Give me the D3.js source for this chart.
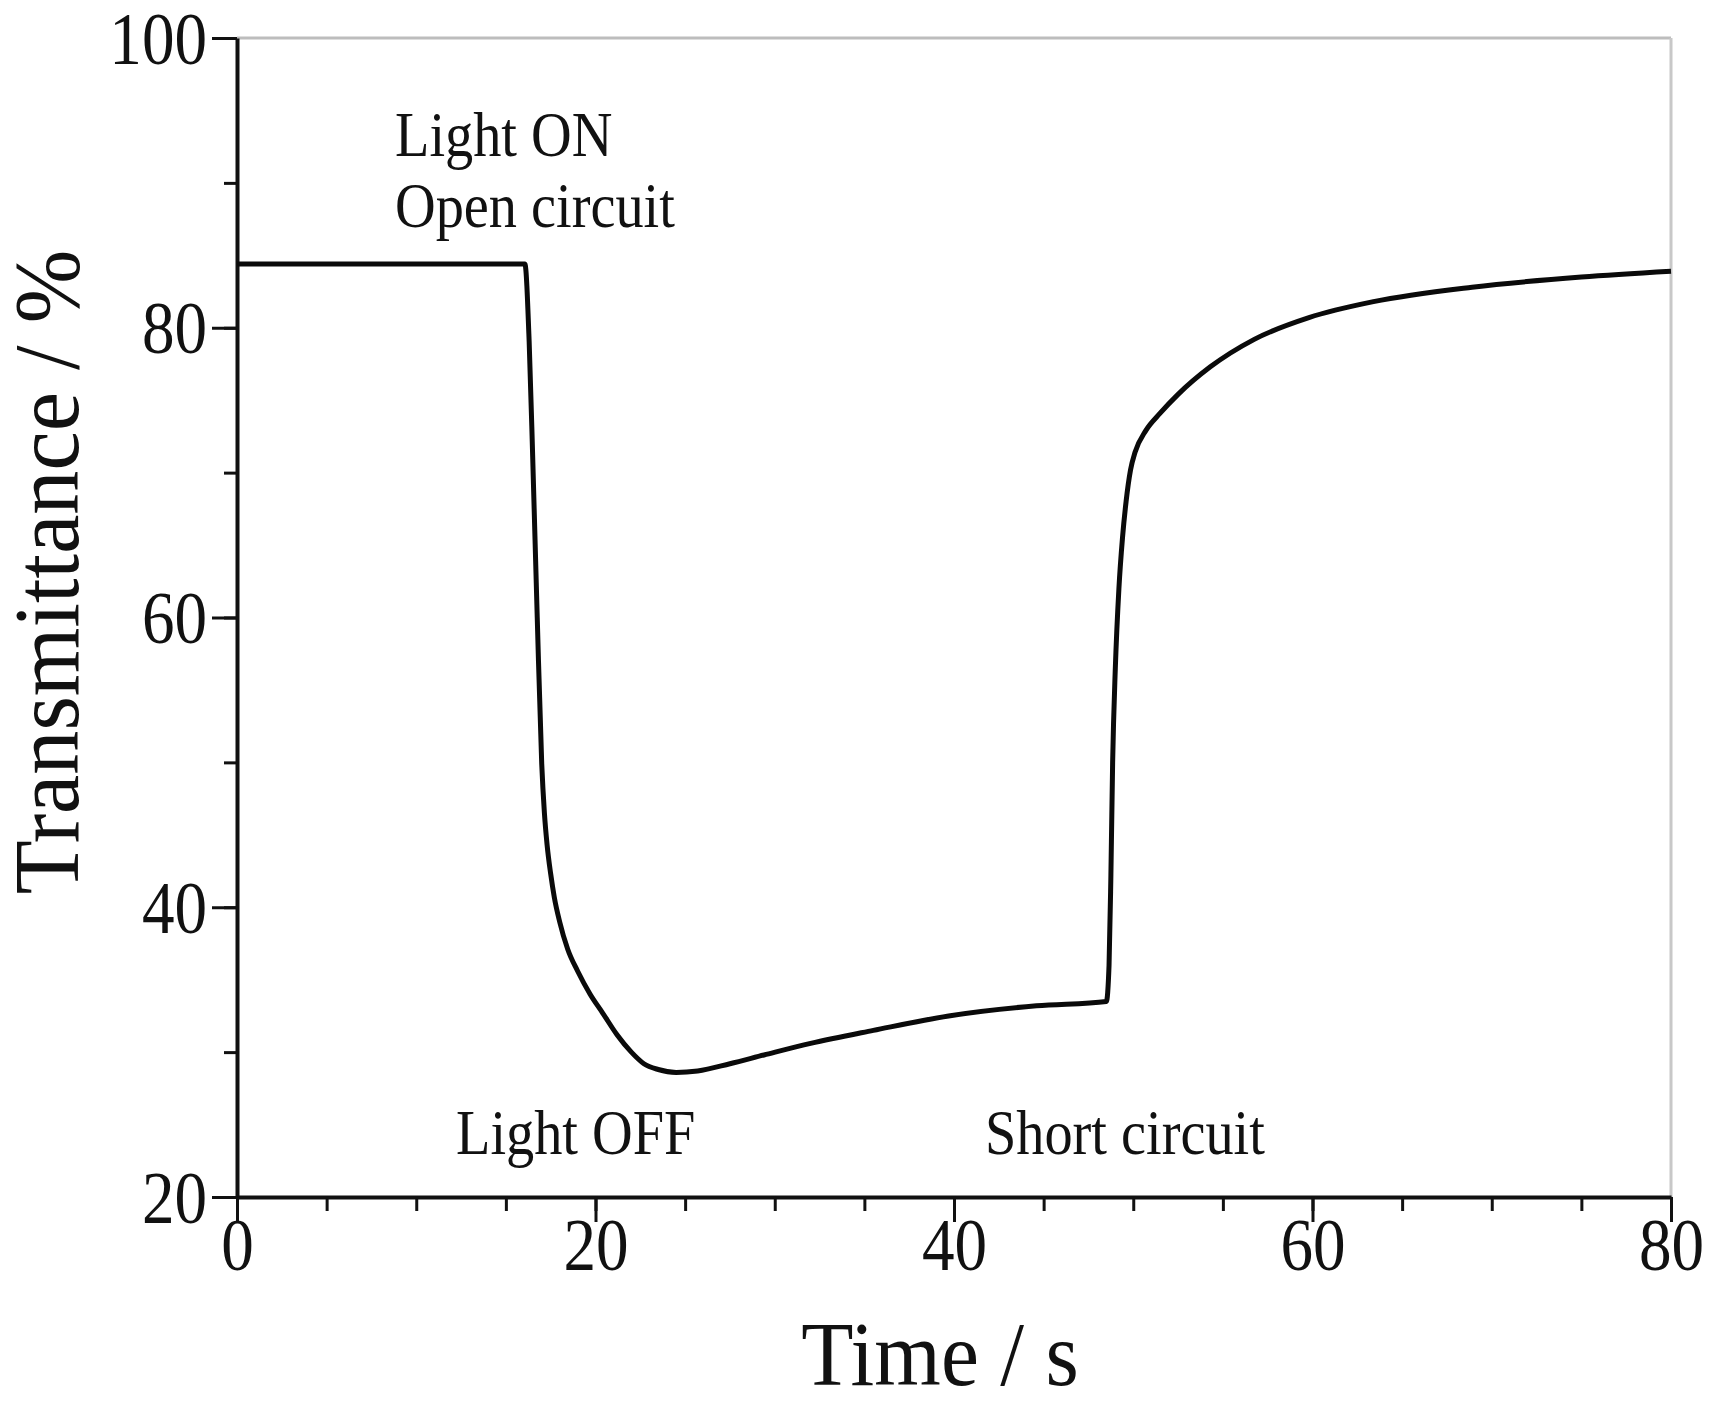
<!DOCTYPE html>
<html>
<head>
<meta charset="utf-8">
<script src="https://cdnjs.cloudflare.com/ajax/libs/d3/7.8.5/d3.min.js"></script>
<style>
  body { margin: 0; background: #fff; }
  svg { display: block; }
  text { font-family: "Liberation Serif", "Times New Roman", serif; fill: #111; }
</style>
</head>
<body>
<svg id="chart" width="1710" height="1404"></svg>
<script>
// time (s) and transmittance (%)
var timeS = [0, 16.06, 16.3, 16.5, 16.75, 17.0, 17.15, 17.3, 17.5, 17.7, 18.0, 18.45, 19.0, 19.7, 20.4, 21.2, 22.0, 22.7, 23.5, 24.5, 25.7, 27.5, 29.4, 32.0, 35.5, 39.7, 44.6, 48.5,
             48.65, 48.75, 48.85, 49.0, 49.2, 49.4, 49.6, 49.85, 50.1, 50.7, 51.5, 52.5, 54.3, 56.75, 59.8, 63.4, 68.9, 75.0, 80.0];
var transmittance = [84.4, 84.4, 79.0, 70.9, 60.0, 49.9, 46.5, 44.3, 42.3, 40.7, 39.0, 37.1, 35.6, 34.0, 32.7, 31.2, 30.0, 29.2, 28.8, 28.6, 28.7, 29.2, 29.8, 30.6, 31.5, 32.5, 33.2, 33.5,
                     36.0, 42.0, 50.0, 56.5, 62.0, 65.5, 68.0, 70.2, 71.4, 72.9, 74.1, 75.4, 77.3, 79.2, 80.7, 81.8, 82.8, 83.5, 83.9];

var xTicks = [0, 20, 40, 60, 80];
var yTicks = [20, 40, 60, 80, 100];

var annotations = [
    { text: "Light ON", x: 395, y: 156 },
    { text: "Open circuit", x: 395, y: 227 },
    { text: "Light OFF", x: 456, y: 1154 },
    { text: "Short circuit", x: 985, y: 1154 }
];

var margin = { top: 38, right: 39, bottom: 207, left: 237 };
var W = 1710, H = 1404;
var iw = W - margin.left - margin.right;
var ih = H - margin.top - margin.bottom;
var squeeze = 0.88;   // the original text is a bit narrow

var svg = d3.select("#chart");
var g = svg.append("g").attr("transform", "translate(" + margin.left + "," + margin.top + ")");

var x = d3.scaleLinear().domain([0, 80]).range([0, iw]);
var y = d3.scaleLinear().domain([20, 100]).range([ih, 0]);

// frame: top and right in grey
g.append("line").attr("x1", 0).attr("x2", iw).attr("y1", 0).attr("y2", 0)
    .attr("stroke", "#bdbdbd").attr("stroke-width", 3);
g.append("line").attr("x1", iw).attr("x2", iw).attr("y1", 0).attr("y2", ih)
    .attr("stroke", "#c8c8c8").attr("stroke-width", 3);

// minor ticks
var xMinor = d3.axisBottom(x).tickValues(d3.range(0, 81, 5)).tickSize(14).tickFormat("");
var yMinor = d3.axisLeft(y).tickValues(d3.range(20, 101, 10)).tickSize(13).tickFormat("");
g.append("g").attr("transform", "translate(0," + ih + ")").call(xMinor)
    .call(function (s) { s.select(".domain").remove(); s.selectAll("line").attr("stroke", "#111").attr("stroke-width", 3); });
g.append("g").call(yMinor)
    .call(function (s) { s.select(".domain").remove(); s.selectAll("line").attr("stroke", "#111").attr("stroke-width", 3); });

// major ticks + labels
var xAxis = d3.axisBottom(x).tickValues(xTicks).tickSize(25).tickSizeOuter(0).tickPadding(12).tickFormat(d3.format("d"));
var yAxis = d3.axisLeft(y).tickValues(yTicks).tickSize(25).tickSizeOuter(0).tickPadding(6).tickFormat(d3.format("d"));

var gx = g.append("g").attr("transform", "translate(0," + ih + ")").call(xAxis);
gx.select(".domain").attr("stroke", "#111").attr("stroke-width", 4);
gx.selectAll(".tick line").attr("stroke", "#111").attr("stroke-width", 3);
gx.selectAll(".tick text")
    .attr("font-size", 74).attr("dy", null).attr("y", 73)
    .attr("transform", "scale(" + squeeze + ",1)");

var gy = g.append("g").call(yAxis);
gy.select(".domain").attr("stroke", "#111").attr("stroke-width", 4);
gy.selectAll(".tick text")
    .attr("font-size", 74).attr("dy", "0.34em").attr("x", -30 / squeeze)
    .attr("transform", "scale(" + squeeze + ",1)");
gy.selectAll(".tick line").attr("stroke", "#111").attr("stroke-width", 3);

// the curve
var line = d3.line()
    .x(function (d) { return x(d[0]); })
    .y(function (d) { return y(d[1]); })
    .curve(d3.curveMonotoneX);

g.append("path")
    .datum(d3.zip(timeS, transmittance))
    .attr("d", line)
    .attr("fill", "none")
    .attr("stroke", "#0a0a0a")
    .attr("stroke-width", 5)
    .attr("stroke-linejoin", "round");

// annotations
svg.selectAll(".note").data(annotations).enter().append("text")
    .attr("class", "note")
    .attr("font-size", 64)
    .attr("transform", function (d) { return "translate(" + d.x + "," + d.y + ") scale(" + squeeze + ",1)"; })
    .text(function (d) { return d.text; });

// axis titles
svg.append("text")
    .attr("text-anchor", "middle")
    .attr("font-size", 92)
    .attr("transform", "translate(940,1385) scale(0.93,1)")
    .text("Time / s");

svg.append("text")
    .attr("text-anchor", "middle")
    .attr("font-size", 93)
    .attr("transform", "translate(78,572) rotate(-90) scale(0.95,1)")
    .text("Transmittance / %");
</script>
</body>
</html>
